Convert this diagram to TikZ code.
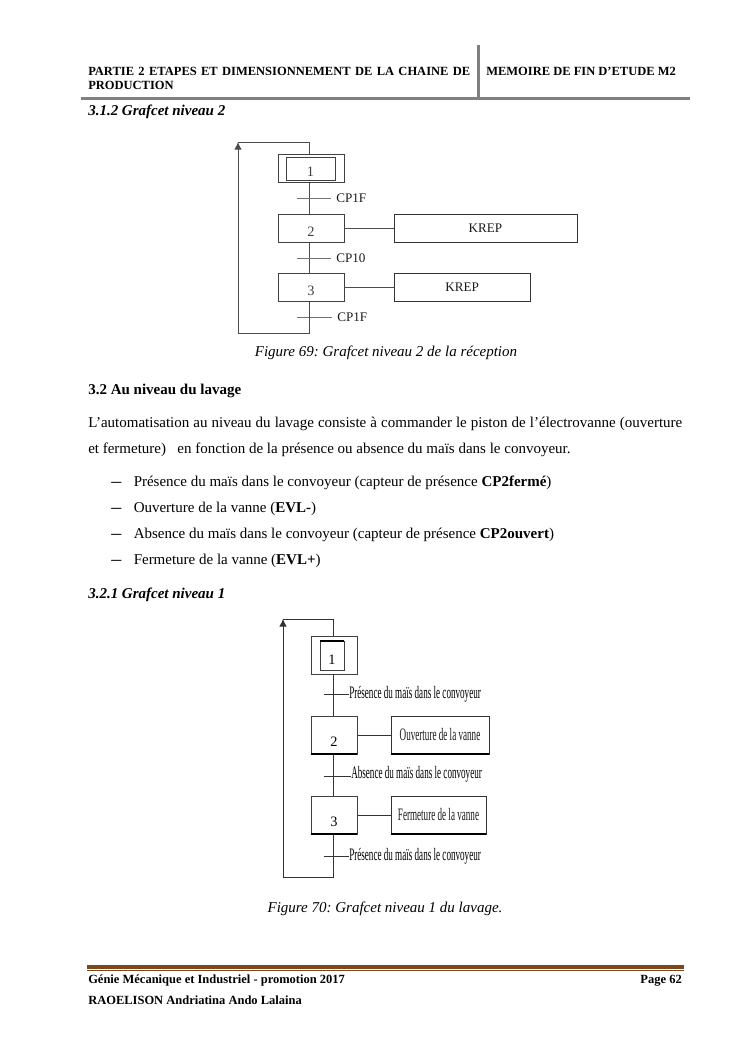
\documentclass[tikz,border=0pt]{standalone}
\usepackage{fontspec}
\setmainfont{Liberation Serif}
\newfontfamily\narrowfont[FakeStretch=0.52]{Liberation Serif}
\usepackage{xcolor}
\usetikzlibrary{arrows.meta, positioning}
\definecolor{rulegray}{RGB}{128,128,128}
\definecolor{rulebrown}{RGB}{122,72,28}
\tikzset{
  pagetext/.style={anchor=base west, inner sep=0pt, font=\fontsize{12}{14}\selectfont},
  headtext/.style={pagetext, font=\fontsize{10}{11}\selectfont\bfseries},
  dashmark/.style={pagetext, font=\fontsize{16}{18}\selectfont},
  figcaption/.style={anchor=base, inner sep=0pt, font=\fontsize{12}{14}\selectfont\itshape},
  sectitle/.style={pagetext, font=\fontsize{12}{14}\selectfont\bfseries\itshape},
  stepa/.style={rectangle, draw=black!75, line width=0.6pt, minimum width=52.8pt, minimum height=22.4pt, inner sep=0pt, text height=12pt, text depth=0pt, text=black!75, outer sep=0pt, font=\fontsize{11.5}{13}\selectfont},
  actiona/.style={rectangle, draw=black!80, line width=0.6pt, minimum height=22.4pt, inner sep=0pt, outer sep=0pt, text=black!90, font=\fontsize{10.5}{12}\selectfont},
  stepb/.style={stepa, minimum width=36.8pt, minimum height=30.4pt, text height=19pt, text=black},
  actionb/.style={actiona, minimum height=30.4pt, font=\narrowfont\fontsize{14}{16}\selectfont},
  translabela/.style={anchor=west, inner sep=0pt, font=\fontsize{10.5}{12}\selectfont, text=black!90},
  translabelb/.style={anchor=west, inner sep=0pt, font=\narrowfont\fontsize{14}{16}\selectfont},
  linka/.style={draw=black!70, line width=0.75pt},
  linkb/.style={draw=black!80, line width=0.7pt},
  ticka/.style={draw=black!55, line width=0.6pt},
  thickbar/.style={draw=black, line width=1.3pt},
  backarrow/.style={-{Latex[length=6pt, width=6pt]}},
}
\begin{document}
\frenchspacing
\begin{tikzpicture}[x=0.8pt, y=-0.8pt]
  \useasboundingbox (0,0) rectangle (745,1053);
  % header
  \node[headtext] (head1) at (88,75) {\makebox[305.6pt][s]{PARTIE 2 ETAPES ET DIMENSIONNEMENT DE LA CHAINE DE}};
  \node[headtext] (head2) at (88,89) {PRODUCTION};
  \node[headtext] (head3) at (486,75) {MEMOIRE DE FIN D’ETUDE M2};
  \coordinate (hruleL) at (81,98);
  \coordinate (hruleR) at (690,98);
  \coordinate (vruleT) at (478,45);
  \draw[rulegray, line width=2.4pt] (hruleL) -- (hruleR);
  \draw[rulegray, line width=2.4pt] (vruleT) -- (vruleT |- hruleL);

  % first grafcet
  \node[sectitle] (sec312) at (88,115) {3.1.2 Grafcet niveau 2};
  \coordinate (v1) at (309,142);
  \coordinate (c1t) at (238,142);
  \coordinate (c1b) at (238,333);
  \node[stepa, text height=0pt] (s1o) at (311,168.5) {};
  \node[stepa, minimum width=39.2pt, minimum height=18.4pt, text height=12pt] (s1) at (310.5,168.5) {1};
  \node[stepa, below=25.6pt of s1o] (s2) {2};
  \node[stepa, below=24.8pt of s2] (s3) {3};
  \node[actiona, minimum width=146.4pt, right=40pt of s2] (a2) {KREP};
  \node[actiona, minimum width=109pt, right=40pt of s3] (a3) {KREP\hspace{14pt}};
  \node[translabela] (cp1f) at (336,198) {CP1F};
  \node[translabela] (cp10) at (336,258) {CP10};
  \node[translabela] (cp1fb) at (337,317) {CP1F};
  \coordinate (t1) at (297,198);
  \coordinate (t2) at (297,258);
  \coordinate (t3) at (297,317);
  \draw[linka] (s1o.south -| v1) -- (s2.north -| v1);
  \draw[linka] (s2.south -| v1) -- (s3.north -| v1);
  \draw[linka] (s2) -- (a2);
  \draw[linka] (s3) -- (a3);
  \draw[ticka] (t1) -- ([xshift=-4pt]cp1f.west);
  \draw[ticka] (t2) -- ([xshift=-4pt]cp10.west);
  \draw[ticka] (t3) -- ([xshift=-4pt]cp1fb.west);
  \draw[linka] (s1o.north -| v1) -- (v1) -- (c1t);
  \draw[linka, backarrow] (s3.south -| v1) |- (c1b) -- (c1t);
  \node[figcaption] (fig69) at (386,356) {Figure 69: Grafcet niveau 2 de la réception};

  % text
  \node[pagetext, font=\fontsize{12}{14}\selectfont\bfseries] (sec32) at (88,394) {3.2 Au niveau du lavage};
  \node[pagetext] (par1) at (88,427) {\makebox[475.2pt][s]{L’automatisation au niveau du lavage consiste à commander le piston de l’électrovanne (ouverture}};
  \node[pagetext] (par2) at (88,453) {et fermeture) \ \ en fonction de la présence ou absence du maïs dans le convoyeur.};
  \node[dashmark] (dash1) at (111,487.5) {–};
  \node[dashmark] (dash2) at (111,513.5) {–};
  \node[dashmark] (dash3) at (111,539.5) {–};
  \node[dashmark] (dash4) at (111,565.5) {–};
  \node[pagetext] (item1) at (133.5,486) {Présence du maïs dans le convoyeur (capteur de présence \textbf{CP2fermé})};
  \node[pagetext] (item2) at (133.5,512) {Ouverture de la vanne (\textbf{EVL-})};
  \node[pagetext] (item3) at (133.5,538) {Absence du maïs dans le convoyeur (capteur de présence \textbf{CP2ouvert})};
  \node[pagetext] (item4) at (133.5,564) {Fermeture de la vanne (\textbf{EVL+})};
  \node[sectitle] (sec321) at (88,598) {3.2.1 Grafcet niveau 1};

  % second grafcet
  \coordinate (v2) at (333,619);
  \coordinate (c2t) at (283,619);
  \coordinate (c2b) at (283,877);
  \node[stepb, text height=0pt] (u1o) at (334,655) {};
  \node[stepb, minimum width=19.2pt, minimum height=23.2pt, text height=14pt] (u1) at (332,655.5) {1};
  \node[stepb, below=33.6pt of u1o] (u2) {2};
  \node[stepb, below=33.6pt of u2] (u3) {3};
  \node[actionb, minimum width=78.4pt, right=27.2pt of u2] (b2) {Ouverture de la vanne};
  \node[actionb, minimum width=76pt, right=27.2pt of u3] (b3) {Fermeture de la vanne};
  \node[translabelb] (pres1) at (349,694) {Présence du maïs dans le convoyeur};
  \node[translabelb] (abs1) at (351,774) {Absence du maïs dans le convoyeur};
  \node[translabelb] (pres2) at (349,856) {Présence du maïs dans le convoyeur};
  \coordinate (w1) at (324,694);
  \coordinate (w2) at (324,776);
  \coordinate (w3) at (324,856);
  \draw[linkb] (u1o.south -| v2) -- (u2.north -| v2);
  \draw[linkb] (u2.south -| v2) -- (u3.north -| v2);
  \draw[linkb] (u2) -- (b2);
  \draw[linkb] (u3) -- (b3);
  \draw[linkb] (w1) -- (pres1.west);
  \draw[linkb] (w2) -- (abs1.west |- w2);
  \draw[linkb] (w3) -- (pres2.west);
  \draw[linkb] (u1o.north -| v2) -- (v2) -- (c2t);
  \draw[linkb, backarrow] (u3.south -| v2) |- (c2b) -- (c2t);
  \draw[thickbar] (u1.north west) -- (u1.north east);
  \draw[thickbar] (u2.south west) -- (u2.south east);
  \draw[thickbar] (u3.south west) -- (u3.south east);
  \draw[thickbar] (b2.south west) -- (b2.south east);
  \draw[thickbar] (b3.south west) -- (b3.south east);
  \node[figcaption] (fig70) at (385,912) {Figure 70: Grafcet niveau 1 du lavage.};

  % footer
  \coordinate (fruleL) at (87,967);
  \coordinate (fruleR) at (684,967);
  \draw[rulebrown, line width=3.2pt] (fruleL) -- (fruleR);
  \draw[rulebrown, line width=0.6pt] ([yshift=-2.9pt]fruleL) -- ([yshift=-2.9pt]fruleR);
  \node[headtext] (foot1) at (88,983) {Génie Mécanique et Industriel - promotion 2017};
  \node[headtext, anchor=base east] (foot2) at (682,983) {Page 62};
  \node[headtext] (foot3) at (88,1004) {RAOELISON Andriatina Ando Lalaina};
\end{tikzpicture}
\end{document}
